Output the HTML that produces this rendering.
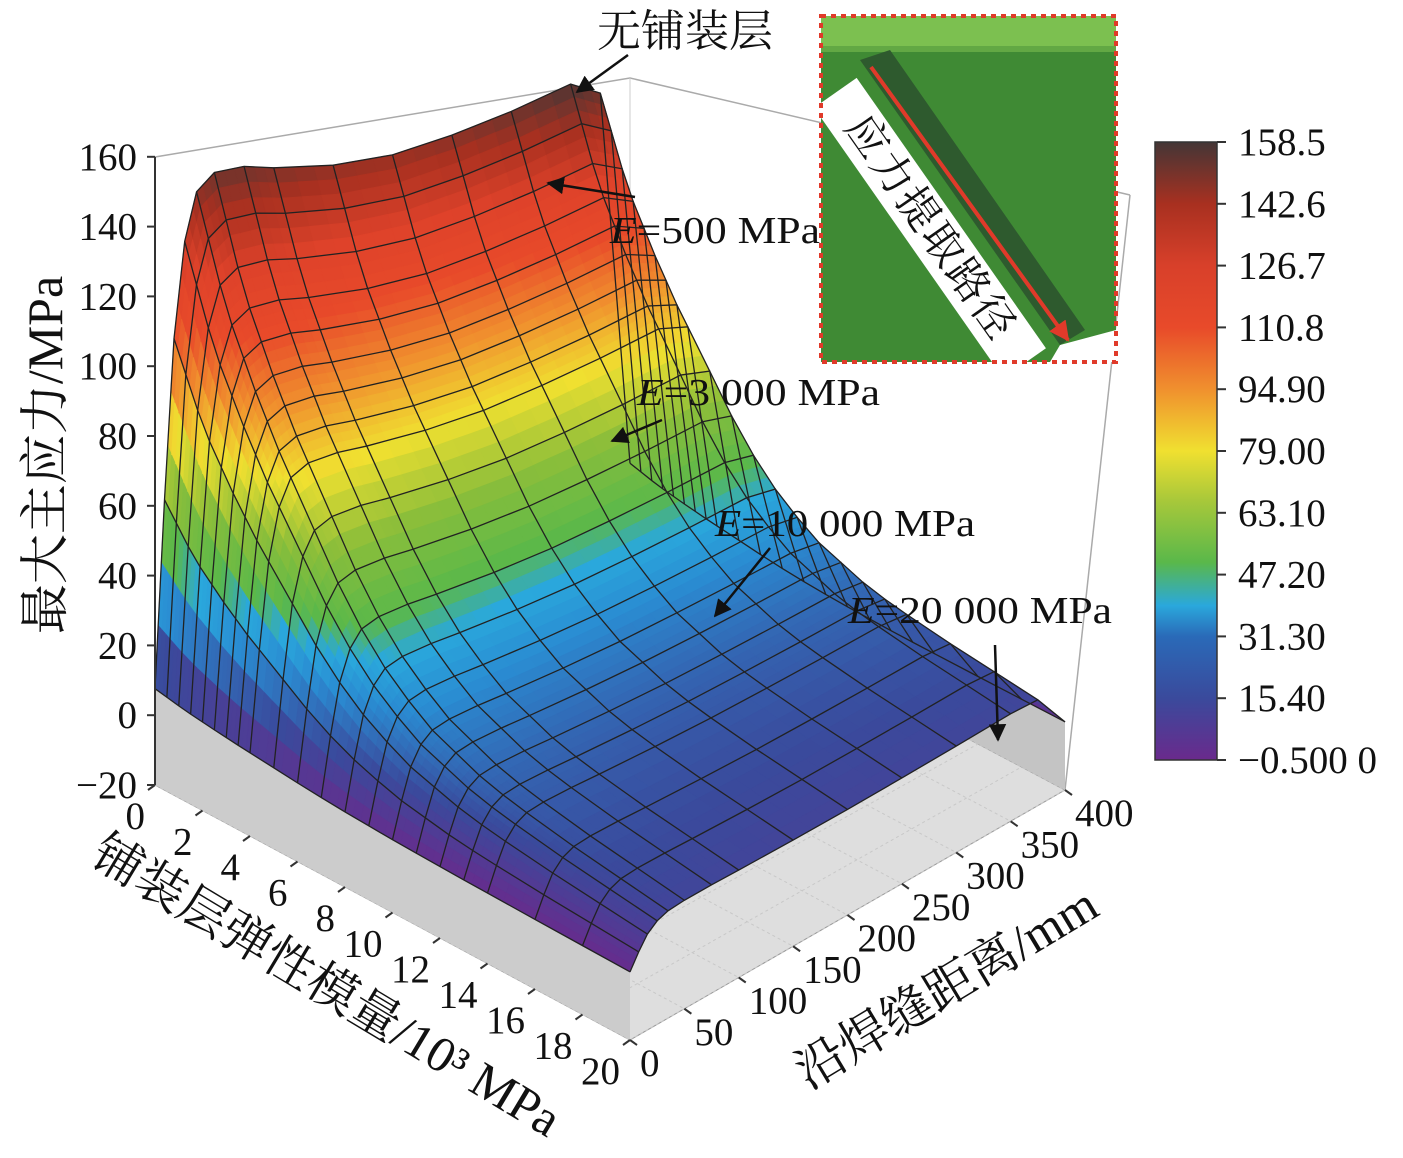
<!DOCTYPE html>
<html><head><meta charset="utf-8"><style>
body{margin:0;background:#fff;}
svg{display:block;}
text{font-family:"Liberation Serif","Noto Serif CJK SC",serif;fill:#111;}
.cjk{font-family:"Liberation Serif","Noto Serif CJK SC","Noto Sans CJK SC",serif;}
</style></head><body>
<svg id="chart" width="1403" height="1158" viewBox="0 0 1403 1158" xmlns="http://www.w3.org/2000/svg">
<defs>
<linearGradient id="cbar" x1="0" y1="1" x2="0" y2="0">
<stop offset="0" stop-color="#6a2a8c"/><stop offset="0.1" stop-color="#3a4a9c"/><stop offset="0.2" stop-color="#2a6ab8"/><stop offset="0.25" stop-color="#2aa8dc"/><stop offset="0.32" stop-color="#5ab84a"/><stop offset="0.42" stop-color="#a8c83a"/><stop offset="0.5" stop-color="#f0e030"/><stop offset="0.6" stop-color="#f0902e"/><stop offset="0.7" stop-color="#e84a2a"/><stop offset="0.8" stop-color="#d8402a"/><stop offset="0.9" stop-color="#a83020"/><stop offset="1" stop-color="#443636"/>
</linearGradient>
<marker id="ah" viewBox="0 0 10 10" refX="9" refY="5" markerWidth="7" markerHeight="7" orient="auto"><path d="M0,0L10,5L0,10z" fill="#111"/></marker>
<marker id="rh" viewBox="0 0 10 10" refX="9" refY="5" markerWidth="5" markerHeight="5" orient="auto"><path d="M0,0L10,5L0,10z" fill="#e03a2a"/></marker>
</defs>
<g id="box"></g>
<g id="surface"></g>
<g id="gridlines"></g>
<g id="axes"></g>

<text class="cjk" x="0" y="0" font-size="50" text-anchor="middle" transform="translate(62,455) rotate(-90)">最大主应力/MPa</text>
<text class="cjk" font-size="50" text-anchor="middle" transform="translate(318,1000) rotate(31)">铺装层弹性模量/10³ MPa</text>
<text class="cjk" font-size="50" text-anchor="middle" transform="translate(955,1002) rotate(-31)">沿焊缝距离/mm</text>

<g>
<text class="cjk" x="685" y="46" font-size="44" text-anchor="middle">无铺装层</text>
<line x1="628" y1="55" x2="577" y2="92" stroke="#111" stroke-width="2.5" marker-end="url(#ah)"/>
<text x="610" y="243" font-size="38" textLength="210" lengthAdjust="spacingAndGlyphs"><tspan font-style="italic">E</tspan>=500 MPa</text>
<line x1="635" y1="197" x2="548" y2="183" stroke="#111" stroke-width="2.5" marker-end="url(#ah)"/>
<text x="637" y="405" font-size="38" textLength="243" lengthAdjust="spacingAndGlyphs"><tspan font-style="italic">E</tspan>=3 000 MPa</text>
<line x1="662" y1="420" x2="612" y2="441" stroke="#111" stroke-width="2.5" marker-end="url(#ah)"/>
<text x="715" y="536" font-size="38" textLength="260" lengthAdjust="spacingAndGlyphs"><tspan font-style="italic">E</tspan>=10 000 MPa</text>
<line x1="770" y1="548" x2="715" y2="616" stroke="#111" stroke-width="2.5" marker-end="url(#ah)"/>
<text x="848" y="623" font-size="38" textLength="264" lengthAdjust="spacingAndGlyphs"><tspan font-style="italic">E</tspan>=20 000 MPa</text>
<line x1="995" y1="645" x2="998" y2="740" stroke="#111" stroke-width="2.5" marker-end="url(#ah)"/>
</g>

<g>
<rect x="821" y="16" width="295" height="346" fill="#3f8a34"/>
<rect x="821" y="16" width="295" height="30" fill="#7cc050"/>
<rect x="821" y="46" width="295" height="6" fill="#62a844"/>
<polygon points="1060,345 1116,330 1116,362 1050,362" fill="#fff"/>
<polygon points="860,60 890,50 1085,330 1060,345" fill="#2e5a2e"/>
<line x1="871" y1="67" x2="1068" y2="340" stroke="#e03a2a" stroke-width="4" marker-end="url(#rh)"/>
<g transform="translate(930,228) rotate(55)">
<rect x="-165" y="-26" width="330" height="52" fill="#fff"/>
<text class="cjk" x="0" y="0" font-size="42" text-anchor="middle" dominant-baseline="central" style="letter-spacing:2px">应力提取路径</text>
</g>
<rect x="821" y="16" width="295" height="346" fill="none" stroke="#e03a2a" stroke-width="4" stroke-dasharray="5,5"/>
</g>

<g>
<rect x="1155" y="142" width="62" height="618" fill="url(#cbar)" stroke="#333" stroke-width="1.5"/>
<g id="cbticks"></g>
</g>
</svg>
<script>
// ---- data ----
const eVals=[0,0.5,1,1.5,2,2.5,3,3.5,4,5,6,7,8,9,10,11,12,13,14,16,18,20];
const peakStress=[152,140,128,118,110,102,95,88,82,70,58,48,40,34,29,26,23,21,19.5,17,15,13];
const dVals=[0,8,16,25,35,50,75,100,150,200,250,300,350,375,400];
const dProfile=[0.05,0.4,0.7,0.88,0.97,1.0,1.0,0.985,0.965,0.96,0.975,1.0,1.035,1.0,0.1];
const zTicks=[-20,0,20,40,60,80,100,120,140,160];
const eTicks=[0,2,4,6,8,10,12,14,16,18,20];
const dTicks=[0,50,100,150,200,250,300,350,400];
const cbLabels=["158.5","142.6","126.7","110.8","94.90","79.00","63.10","47.20","31.30","15.40","\u22120.500 0"];

const NS="http://www.w3.org/2000/svg";
function mk(tag,attrs,parent){const el=document.createElementNS(NS,tag);for(const k in attrs)el.setAttribute(k,attrs[k]);parent.appendChild(el);return el;}
const C00=[155,785,3.49],C10=[630,1040,3.3],C01=[630,560,2.75],C11=[1065,790,3.2];
function proj(E,d,z){const u=E/20,v=d/400;
 const w00=(1-u)*(1-v),w10=u*(1-v),w01=(1-u)*v,w11=u*v;
 const x=w00*C00[0]+w10*C10[0]+w01*C01[0]+w11*C11[0];
 const yf=w00*C00[1]+w10*C10[1]+w01*C01[1]+w11*C11[1];
 const k=w00*C00[2]+w10*C10[2]+w01*C01[2]+w11*C11[2];
 return [x,yf-(z+20)*k];}
function zAt(i,j){return peakStress[i]*dProfile[j];}
const cStops=[[-0.5,[106,42,140]],[15.4,[58,74,156]],[31.3,[42,140,210]],[40,[42,168,220]],[47.2,[90,184,74]],[63.1,[140,190,58]],[79,[240,224,48]],[94.9,[240,144,46]],[110.8,[232,74,42]],[126.7,[222,66,42]],[142.6,[168,48,32]],[158.5,[68,54,54]]];
function col(z){if(z<=cStops[0][0])return cStops[0][1];for(let i=1;i<cStops.length;i++){if(z<=cStops[i][0]){const a=cStops[i-1],b=cStops[i];const t=(z-a[0])/(b[0]-a[0]);return a[1].map((c,k)=>Math.round(c+(b[1][k]-c)*t));}}return cStops[cStops.length-1][1];}

// ---- box & floor ----
const box=document.getElementById('box');
const f=[proj(0,0,-20),proj(20,0,-20),proj(20,400,-20),proj(0,400,-20)];
mk('polyline',{points:'155,157 630,78 1130,195',fill:'none',stroke:'#aaa','stroke-width':1.5},box);
mk('line',{x1:630,y1:78,x2:630,y2:560,stroke:'#ccc','stroke-width':1},box);
mk('line',{x1:1130,y1:195,x2:1065,y2:790,stroke:'#aaa','stroke-width':1.5},box);
const floor=mk('polygon',{points:f.map(p=>p.join(',')).join(' '),fill:'#dedede',stroke:'#999','stroke-width':1},box);


eTicks.forEach(e=>{const a=proj(e,0,-20),b=proj(e,400,-20);mk('line',{x1:a[0],y1:a[1],x2:b[0],y2:b[1],stroke:'#c8c8c8','stroke-width':1,'stroke-dasharray':'3,3'},box);});
dTicks.forEach(d=>{const a=proj(0,d,-20),b=proj(20,d,-20);mk('line',{x1:a[0],y1:a[1],x2:b[0],y2:b[1],stroke:'#c8c8c8','stroke-width':1,'stroke-dasharray':'3,3'},box);});
const rw=[];for(let i=0;i<eVals.length;i++)rw.push(proj(eVals[i],400,zAt(i,dVals.length-1)));
rw.push(proj(20,400,-20));rw.push(proj(0,400,-20));
const rwall=mk('polygon',{points:rw.map(p=>p.join(',')).join(' '),fill:'#c4c4c4'},box);


const wallPts=[];for(let i=0;i<eVals.length;i++)wallPts.push(proj(eVals[i],0,zAt(i,0)));
wallPts.push(proj(20,0,-20));wallPts.push(proj(0,0,-20));
const wall=mk('polygon',{points:wallPts.map(p=>p.join(',')).join(' '),fill:'#cccccc'},box);



// ---- surface ----
const surf=document.getElementById('surface');
const cells=[];
const SE=3,SD=3;
for(let i=0;i<eVals.length-1;i++)for(let j=0;j<dVals.length-1;j++){
 const z00=zAt(i,j),z10=zAt(i+1,j),z01=zAt(i,j+1),z11=zAt(i+1,j+1);
 const val=(t,s)=>z00*(1-t)*(1-s)+z10*t*(1-s)+z01*(1-t)*s+z11*t*s;
 const E=t=>eVals[i]+(eVals[i+1]-eVals[i])*t, D=s=>dVals[j]+(dVals[j+1]-dVals[j])*s;
 for(let a=0;a<SE;a++)for(let b=0;b<SD;b++){
  const t0=a/SE,t1=(a+1)/SE,s0=b/SD,s1=(b+1)/SD;
  const pts=[proj(E(t0),D(s0),val(t0,s0)),proj(E(t1),D(s0),val(t1,s0)),proj(E(t1),D(s1),val(t1,s1)),proj(E(t0),D(s1),val(t0,s1))];
  const zc=val((t0+t1)/2,(s0+s1)/2);
  const depth=E((t0+t1)/2)/20+(400-D((s0+s1)/2))/400*0.9;
  cells.push({pts,zc,depth});
 }
}
cells.sort((p,q)=>p.depth-q.depth);
cells.forEach(c=>{const cc='rgb('+col(c.zc).join(',')+')';
 const el=mk('polygon',{points:c.pts.map(p=>p[0].toFixed(1)+','+p[1].toFixed(1)).join(' '),fill:cc,stroke:cc,'stroke-width':0.8},surf);
 
 
});

// ---- mesh lines ----
const gl=document.getElementById('gridlines');
for(let i=0;i<eVals.length;i++){const pts=dVals.map((d,j)=>proj(eVals[i],d,zAt(i,j)));
 const el=mk('polyline',{points:pts.map(p=>p.join(',')).join(' '),fill:'none',stroke:'#222','stroke-width':1.3},gl);
 
 }
for(let j=0;j<dVals.length;j++){const pts=eVals.map((e,i)=>proj(e,dVals[j],zAt(i,j)));
 const el=mk('polyline',{points:pts.map(p=>p.join(',')).join(' '),fill:'none',stroke:'#222','stroke-width':1.3},gl);
 
 }

// ---- axes ----
const ax=document.getElementById('axes');
mk('line',{x1:155,y1:157,x2:155,y2:785,stroke:'#333','stroke-width':2},ax);
zTicks.forEach(z=>{const p=proj(0,0,z);
 mk('line',{x1:p[0],y1:p[1],x2:p[0]-8,y2:p[1],stroke:'#333','stroke-width':2},ax);
 const t=mk('text',{x:p[0]-18,y:p[1]+13,'font-size':39,'text-anchor':'end'},ax);t.textContent=z<0?'\u2212'+(-z):z;
 
 });
eTicks.forEach(e=>{const p=proj(e,0,-20);
 mk('line',{x1:p[0],y1:p[1],x2:p[0]-7,y2:p[1]+5,stroke:'#333','stroke-width':2},ax);
 const t=mk('text',{x:p[0]-10,y:p[1]+44,'font-size':39,'text-anchor':'end'},ax);t.textContent=e;
 
 });
dTicks.forEach(d=>{const p=proj(20,d,-20);
 mk('line',{x1:p[0],y1:p[1],x2:p[0]+7,y2:p[1]+5,stroke:'#333','stroke-width':2},ax);
 const t=mk('text',{x:p[0]+10,y:p[1]+36,'font-size':39,'text-anchor':'start'},ax);t.textContent=d;
 
 });

// ---- colorbar ticks ----
const cb=document.getElementById('cbticks');
cbLabels.forEach((l,i)=>{const y=142+i*61.8;
 mk('line',{x1:1217,y1:y,x2:1226,y2:y,stroke:'#333','stroke-width':2},cb);
 const t=mk('text',{x:1238,y:y+13,'font-size':39},cb);t.textContent=l;
 
 });
</script>
</body></html>
